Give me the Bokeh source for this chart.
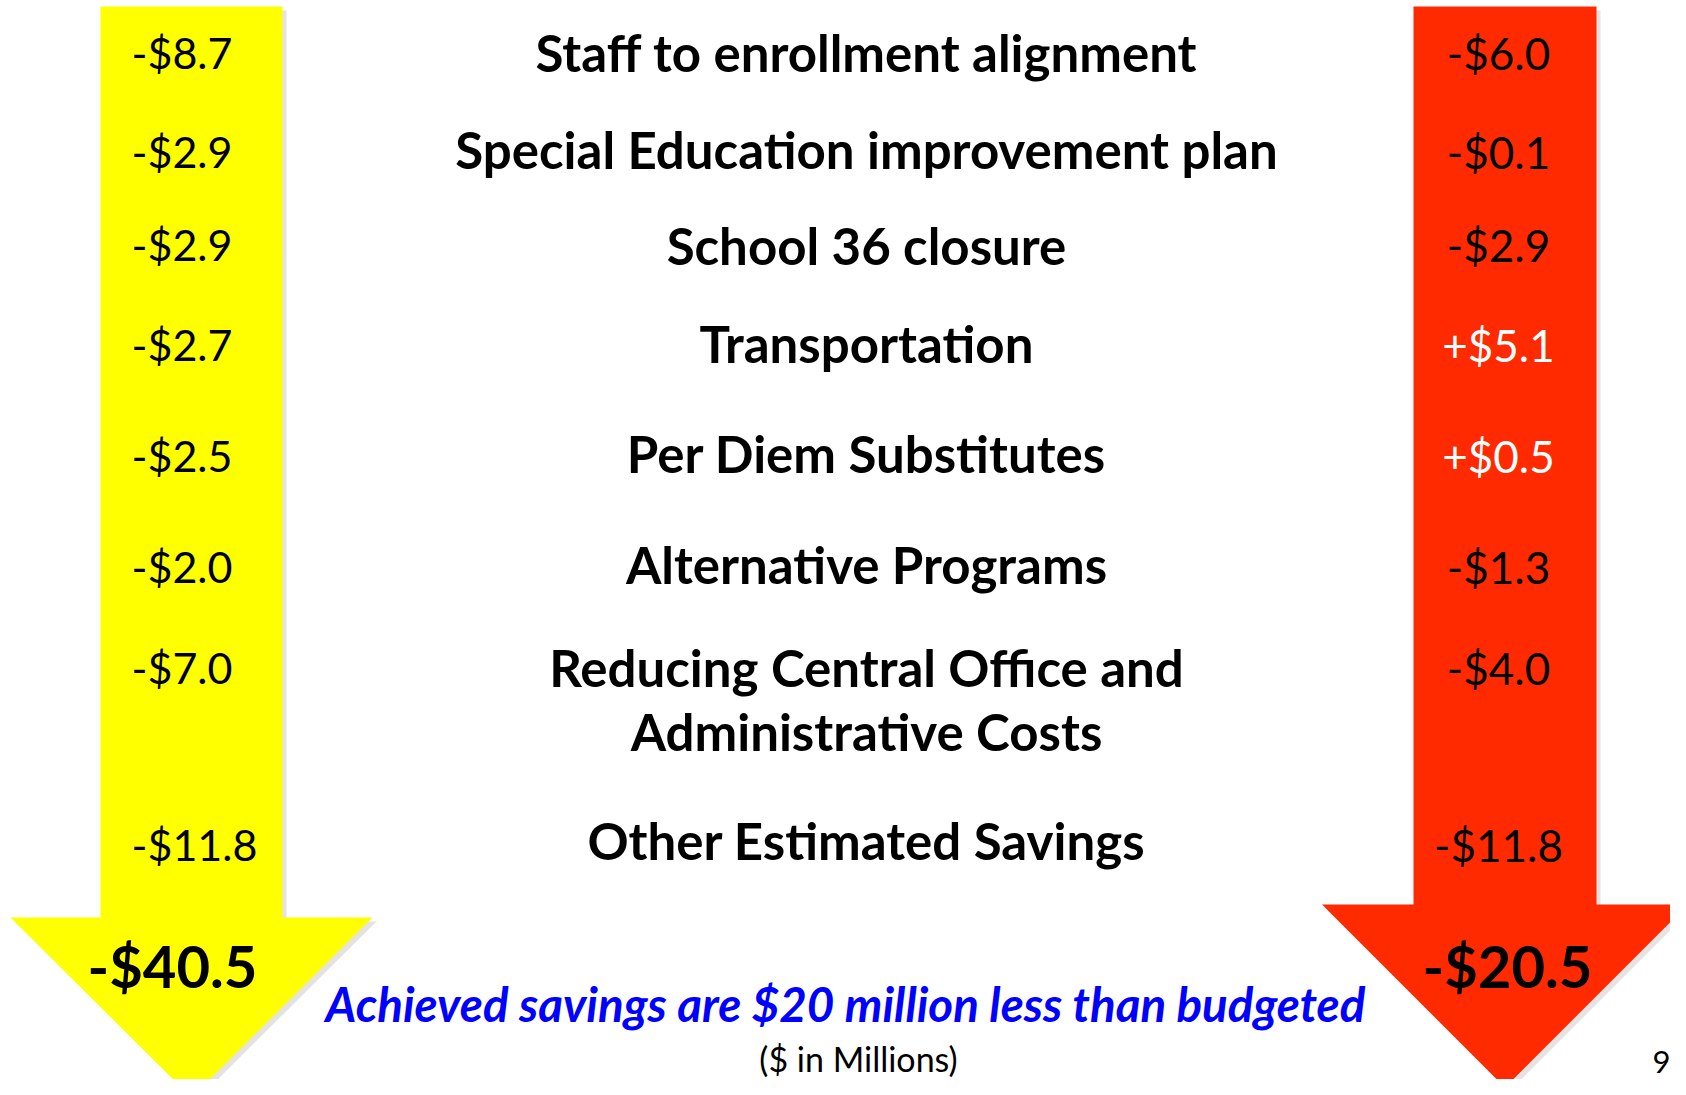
from bokeh.plotting import figure
from bokeh.models import Range1d, ColumnDataSource
from bokeh.core.properties import value
from bokeh.embed import file_html
from bokeh.resources import INLINE

# ---------------- data ----------------
categories = [
    "Staff to enrollment alignment",
    "Special Education improvement plan",
    "School 36 closure",
    "Transportation",
    "Per Diem Substitutes",
    "Alternative Programs",
    "Reducing Central Office and\nAdministrative Costs",
    "Other Estimated Savings",
]
budgeted = [-8.7, -2.9, -2.9, -2.7, -2.5, -2.0, -7.0, -11.8]
achieved = [-6.0, -0.1, -2.9, 5.1, 0.5, -1.3, -4.0, -11.8]
budgeted_total = -40.5
achieved_total = -20.5
note = "Achieved savings are $20 million less than budgeted"
units = "($ in Millions)"
page_number = "9"

# ---------------- layout (reference pixel space) ----------------
FW, FH = 1670, 1079
row_y = [52, 149, 245, 343, 453, 564, 667, 840]
val_y = [52, 151, 244, 344, 455, 566, 667, 844]
label_x = 866
FONT = "Lato"


def fmt(v):
    sign = "+" if v > 0 else "-"
    return f"{sign}${abs(v):.1f}"


def px(v):
    return f"{v:.1f}px"


p = figure(width=FW, height=FH, x_range=Range1d(0, FW), y_range=Range1d(FH, 0),
           output_backend="svg", toolbar_location=None, min_border=0)
p.axis.visible = False
p.grid.visible = False
p.outline_line_color = None
p.background_fill_color = "white"
p.border_fill_color = "white"


def arrow(cx, half_shaft, top, head_top, half_head, tip):
    xs = [cx - half_shaft, cx + half_shaft, cx + half_shaft, cx + half_head, cx,
          cx - half_head, cx - half_shaft]
    ys = [top, top, head_top, head_top, tip, head_top, head_top]
    return xs, ys


arrows = [
    dict(cx=191, hs=91, top=6, ht=917, hh=181, tip=1097, color="#FFFF00"),
    dict(cx=1504.5, hs=91.5, top=6, ht=904, hh=183, tip=1087, color="#FF2A00"),
]
for a in arrows:
    xs, ys = arrow(a["cx"], a["hs"], a["top"], a["ht"], a["hh"], a["tip"])
    p.patch([x + 4 for x in xs], [y + 4 for y in ys], color="#808080",
            alpha=0.22, line_width=0)
    p.patch(xs, ys, color=a["color"], line_width=0)

# category labels
lab_x, lab_y, lab_t = [], [], []
for c, y in zip(categories, row_y):
    lines = c.split("\n")
    for i, ln in enumerate(lines):
        lab_x.append(label_x); lab_y.append(y + i * 64); lab_t.append(ln)
p.text(x=lab_x, y=lab_y, text=lab_t, text_font=value(FONT), text_font_style="bold",
       text_font_size=px(51), text_align="center", text_baseline="middle",
       text_color="black")

# budgeted values (yellow arrow)
p.text(x=[131] * len(budgeted), y=val_y, text=[fmt(v) for v in budgeted],
       text_font=value(FONT), text_font_size=px(43), text_align="left",
       text_baseline="middle", text_color="black")

# achieved values (red arrow)
src = ColumnDataSource(dict(x=[1498] * len(achieved), y=val_y,
                            t=[fmt(v) for v in achieved],
                            c=["white" if v > 0 else "black" for v in achieved]))
p.text(x="x", y="y", text="t", text_color="c", source=src,
       text_font=value(FONT), text_font_size=px(44), text_align="center",
       text_baseline="middle")

# totals
p.text(x=[172, 1507], y=[965, 965], text=[fmt(budgeted_total), fmt(achieved_total)],
       text_font=value(FONT), text_font_style="bold", text_font_size=px(58),
       text_align="center", text_baseline="middle", text_color="black")

# note
p.text(x=[845], y=[1003], text=[note], text_font=value(FONT),
       text_font_style="bold italic", text_font_size=px(47.5), text_align="center",
       text_baseline="middle", text_color="#0000FF")
p.text(x=[858], y=[1058], text=[units], text_font=value(FONT),
       text_font_size=px(34), text_align="center", text_baseline="middle",
       text_color="black")
p.text(x=[1661], y=[1061], text=[page_number], text_font=value(FONT),
       text_font_size=px(31), text_align="center", text_baseline="middle",
       text_color="black")

open("out.html", "w").write(file_html(p, INLINE))
